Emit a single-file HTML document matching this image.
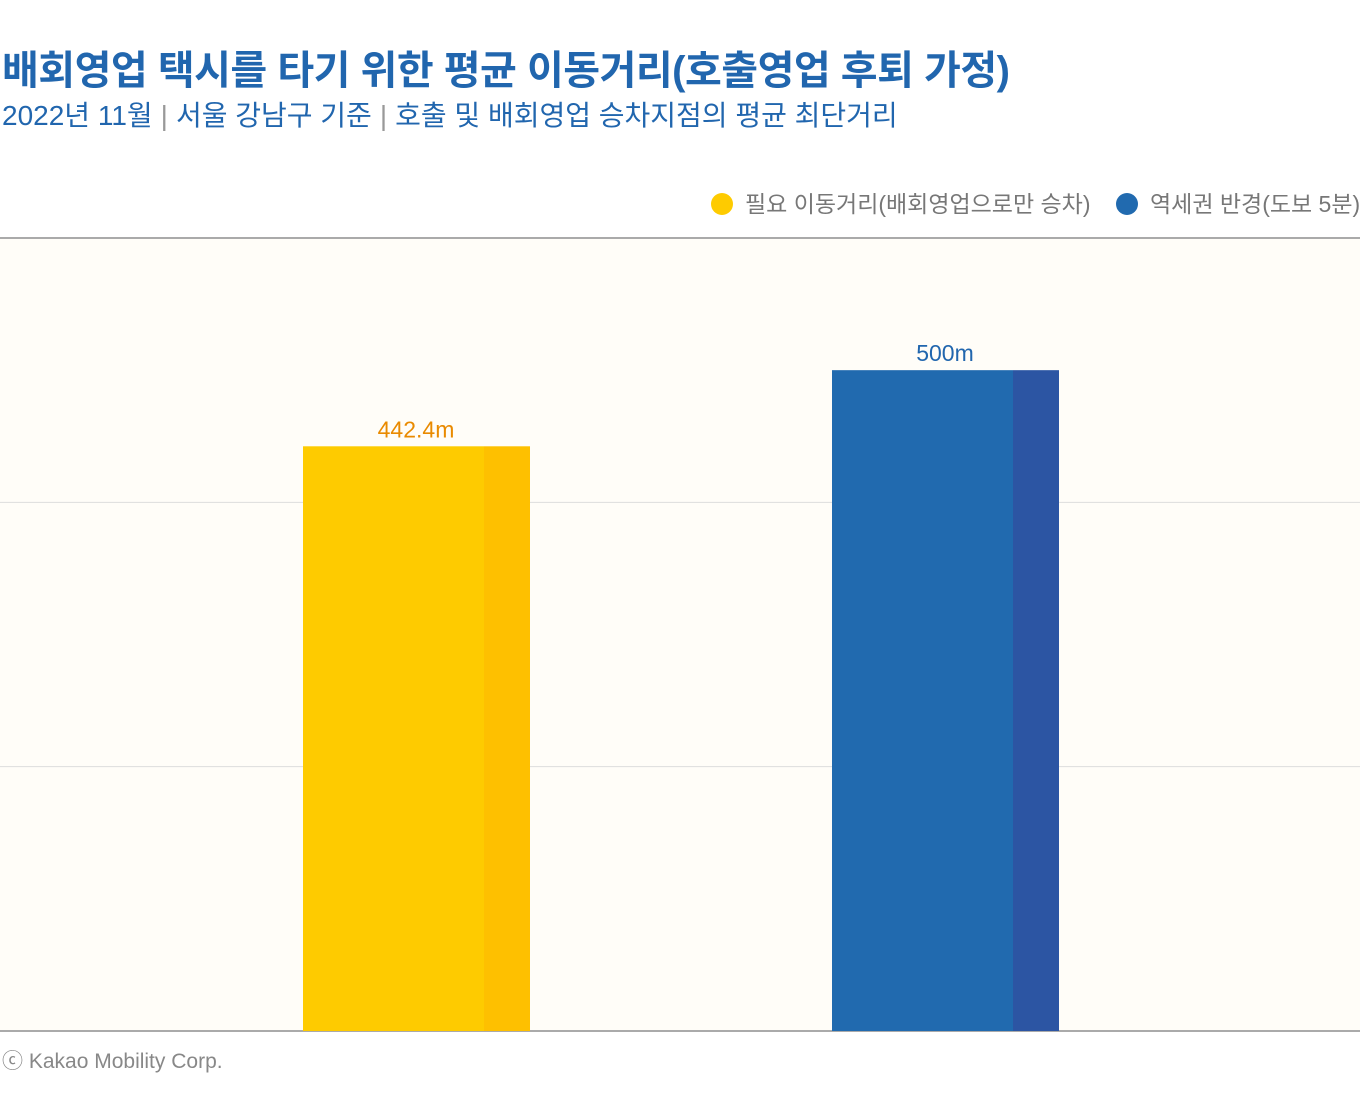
<!DOCTYPE html>
<html><head><meta charset="utf-8"><style>
body{margin:0;width:1360px;height:1112px;background:#fff;font-family:"Liberation Sans","Noto Sans CJK KR",sans-serif;overflow:hidden;position:relative}
.t{position:absolute;left:2px;top:38px;font-size:40px;font-weight:bold;color:#2166ae;white-space:nowrap;letter-spacing:-0.5px}
.s{position:absolute;left:2px;top:94px;font-size:28px;color:#2166ae;white-space:nowrap}
.s span{color:#999;margin:0 8px}
</style></head><body>
<div class="t">배회영업 택시를 타기 위한 평균 이동거리(호출영업 후퇴 가정)</div>
<div class="s">2022년 11월<span>|</span>서울 강남구 기준<span>|</span>호출 및 배회영업 승차지점의 평균 최단거리</div>
<svg id="c" width="1360" height="1112" style="position:absolute;left:0;top:0"></svg>
<script>
const categories=["필요 이동거리","역세권 반경"];
const values=[442.4,500];
const labels=["442.4m","500m"];
const ticks=[0,200,400,600];
const NS="http://www.w3.org/2000/svg";
const svg=document.getElementById('c');
const y0=1031,yTop=238,maxV=600;
const y=v=>y0-(y0-yTop)*v/maxV;
function mk(t,a){const e=document.createElementNS(NS,t);for(const k in a)e.setAttribute(k,a[k]);svg.appendChild(e);return e;}
const bg=mk('rect',{x:0,y:yTop,width:1360,height:y0-yTop,fill:'#fffdf8'});


ticks.forEach(t=>{const l=mk('line',{x1:0,x2:1360,y1:y(t),y2:y(t),stroke:t==0||t==600?'#aaa':'#ddd','stroke-width':t==0||t==600?2:1});

});
const colors=[["#fecb00","#fec000","#e98a00"],["#216aaf","#2c55a3","#2166ae"]];
const xs=[303,832];
values.forEach((v,i)=>{
const g=mk('rect',{x:xs[i],y:y(v),width:181,height:y0-y(v),fill:colors[i][0]});


const d=mk('rect',{x:xs[i]+181,y:y(v),width:46,height:y0-y(v),fill:colors[i][1]});


const tx=mk('text',{x:xs[i]+113,y:y(v)-9,'text-anchor':'middle','font-size':23,fill:colors[i][2]});
tx.textContent=labels[i];


});
[[722,"#fecb00","필요 이동거리(배회영업으로만 승차)",745],[1127,"#216aaf","역세권 반경(도보 5분)",1150]].forEach(l=>{
const c=mk('circle',{cx:l[0],cy:204,r:11,fill:l[1]});


const t=mk('text',{x:l[3],y:212,'font-size':23,fill:'#777'});t.textContent=l[2];


});
const cp=mk('text',{x:2,y:1068,'font-size':21,fill:'#888'});cp.textContent="ⓒ Kakao Mobility Corp.";


</script>
</body></html>
